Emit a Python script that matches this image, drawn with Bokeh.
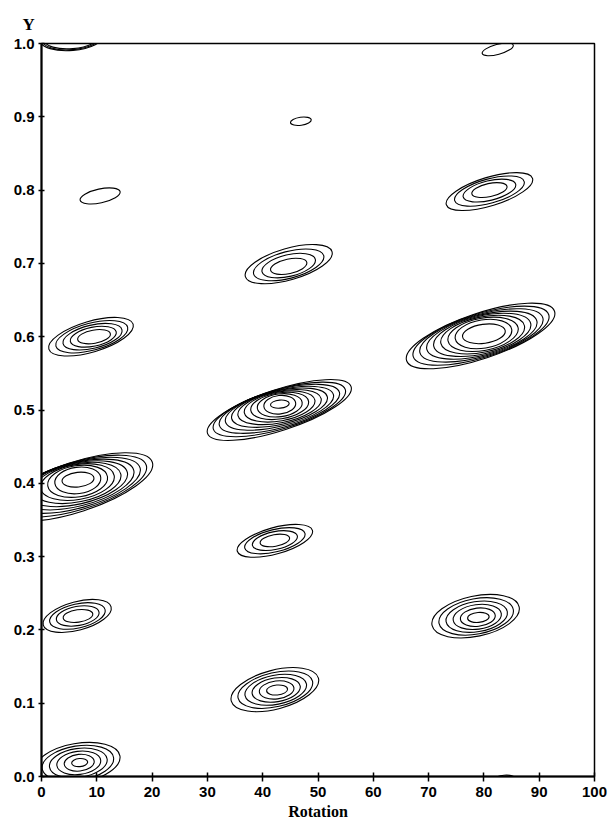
import math
from bokeh.plotting import figure
from bokeh.models import Range1d, FixedTicker, PrintfTickFormatter, ColumnDataSource
from bokeh.embed import file_html
from bokeh.resources import INLINE

# ---- data: contour peaks ----
# centre of innermost contour (Rotation, Y)
inner_rot = [43.1, 80.0, 6.6, 9.5, 81.0, 44.7, 10.6, 46.9, 82.5, 5.5, 42.2, 6.6, 79.0, 42.6, 6.9, 83.7]
inner_y = [0.508, 0.604, 0.405, 0.600, 0.800, 0.696, 0.792, 0.894, 0.992, 1.008, 0.322, 0.219, 0.217, 0.118, 0.019, -0.003]
# centre of outermost contour
outer_rot = [43.0, 79.4, 6.3, 8.95, 81.0, 44.7, 10.6, 46.9, 82.5, 5.5, 42.2, 6.45, 78.5, 42.2, 6.5, 83.7]
outer_y = [0.500, 0.601, 0.395, 0.600, 0.798, 0.699, 0.792, 0.894, 0.992, 1.008, 0.3215, 0.219, 0.2187, 0.1185, 0.018, -0.003]
# number of contour levels around each peak
n_levels = [11, 9, 10, 5, 4, 4, 1, 1, 1, 3, 4, 4, 6, 6, 6, 1]
# extent of innermost contour (Rotation units, Y units, tilt deg)
inner_w = [3.4, 7.8, 5.8, 6.0, 6.5, 6.7, 7.4, 3.8, 5.8, 10.1, 5.4, 5.4, 3.9, 3.8, 2.9, 3.6]
inner_h = [0.011, 0.026, 0.020, 0.018, 0.018, 0.020, 0.019, 0.011, 0.0136, 0.030, 0.016, 0.017, 0.0136, 0.0136, 0.011, 0.0095]
inner_tilt = [5, 8, 6, 10, 12, 12, 12, 8, 15, 5, 10, 8, 5, 5, 5, 5]
# extent of outermost contour
outer_w = [27.3, 28.2, 28.9, 15.9, 16.3, 16.3, 7.4, 3.8, 5.8, 11.6, 14.1, 12.7, 16.1, 16.3, 15.6, 3.6]
outer_h = [0.056, 0.062, 0.068, 0.042, 0.039, 0.043, 0.019, 0.011, 0.0136, 0.035, 0.036, 0.039, 0.055, 0.053, 0.054, 0.0095]
outer_tilt = [18, 18.5, 18, 16.5, 17, 16, 12, 8, 15, 5, 15.5, 15, 12, 14.8, 10, 5]

x_ticks = [0, 10, 20, 30, 40, 50, 60, 70, 80, 90, 100]
y_ticks = [0.0, 0.1, 0.2, 0.3, 0.4, 0.5, 0.6, 0.7, 0.8, 0.9, 1.0]

# ---- build contour rings ----
cx, cy, cw, ch, ca = [], [], [], [], []
for i, n in enumerate(n_levels):
    expo = 0.5 if n >= 9 else 0.8
    for k in range(n):
        t = k / (n - 1) if n > 1 else 1.0
        cx.append(inner_rot[i] + (outer_rot[i] - inner_rot[i]) * t)
        cy.append(inner_y[i] + (outer_y[i] - inner_y[i]) * t)
        cw.append(inner_w[i] + (outer_w[i] - inner_w[i]) * t)
        ch.append(inner_h[i] + (outer_h[i] - inner_h[i]) * (t ** expo))
        ca.append(math.radians(inner_tilt[i] + (outer_tilt[i] - inner_tilt[i]) * t))

src = ColumnDataSource(dict(x=cx, y=cy, w=cw, h=ch, a=ca))

p = figure(width=612, height=828, x_range=Range1d(0, 100), y_range=Range1d(0, 1),
           output_backend="svg", toolbar_location=None,
           min_border_left=41, min_border_right=18, min_border_top=43, min_border_bottom=52,
           background_fill_color="white", border_fill_color="white")

p.ellipse(x="x", y="y", width="w", height="h", angle="a", source=src,
          fill_color=None, line_color="black", line_width=1.1)

p.grid.visible = False
p.outline_line_color = "black"
p.outline_line_width = 1.5

p.title.text = "Y"
p.title.align = "left"
p.title.offset = -19
p.title.text_font = "Liberation Serif"
p.title.text_font_style = "bold"
p.title.text_font_size = "17px"
p.title.text_color = "black"
p.title.standoff = 20

for ax in (p.xaxis[0], p.yaxis[0]):
    ax.axis_line_width = 2
    ax.axis_line_color = "black"
    ax.major_tick_line_color = "black"
    ax.major_tick_line_width = 1.5
    ax.minor_tick_line_color = None
    ax.major_label_text_font = "Liberation Sans"
    ax.major_label_text_font_style = "bold"
    ax.major_label_text_font_size = "15px"
    ax.major_label_text_color = "black"

p.xaxis.ticker = FixedTicker(ticks=x_ticks)
p.xaxis.major_tick_in = 4
p.xaxis.major_tick_out = 5
p.xaxis.major_label_standoff = 5
p.xaxis.axis_label = "Rotation"
p.xaxis.axis_label_text_font = "Liberation Serif"
p.xaxis.axis_label_text_font_style = "bold"
p.xaxis.axis_label_text_font_size = "16px"
p.xaxis.axis_label_text_color = "black"
p.xaxis.axis_label_standoff = 3

p.yaxis.ticker = FixedTicker(ticks=y_ticks)
p.yaxis.formatter = PrintfTickFormatter(format="%.1f")
p.yaxis.major_tick_in = 3
p.yaxis.major_tick_out = 3
p.yaxis.major_label_standoff = 4

open("out.html", "w").write(file_html(p, INLINE))
